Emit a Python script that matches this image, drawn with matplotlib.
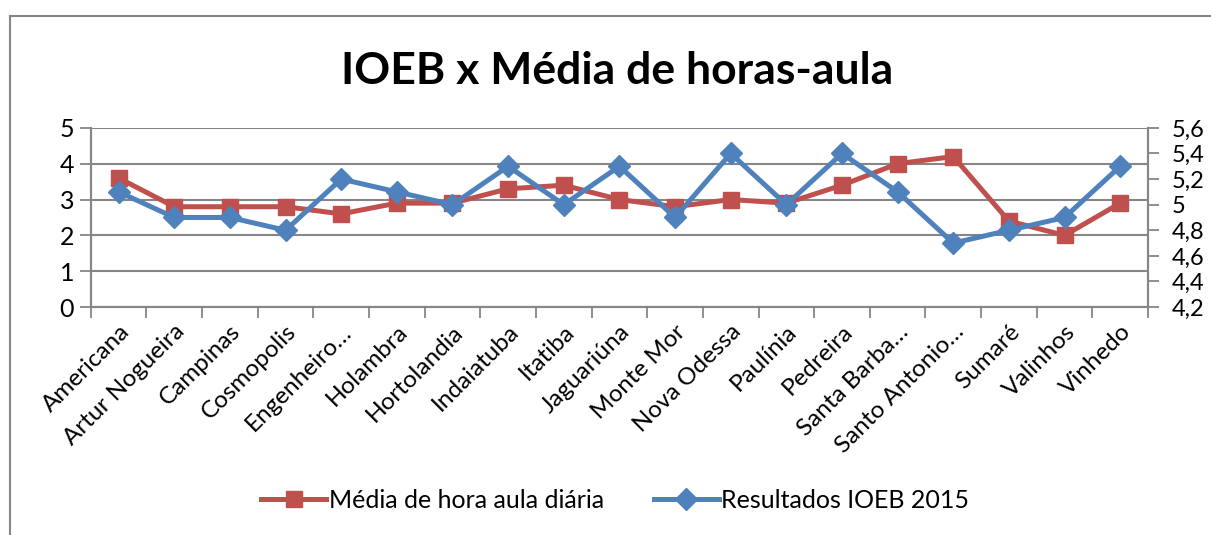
import matplotlib.pyplot as plt
from matplotlib.lines import Line2D
from matplotlib.ticker import FixedLocator, FuncFormatter

# Municipalities (x categories)
CIDADES = ["Americana", "Artur Nogueira", "Campinas", "Cosmopolis", "Engenheiro…",
           "Holambra", "Hortolandia", "Indaiatuba", "Itatiba", "Jaguariúna",
           "Monte Mor", "Nova Odessa", "Paulínia", "Pedreira", "Santa Barba…",
           "Santo Antonio…", "Sumaré", "Valinhos", "Vinhedo"]

# left axis series
HORAS_AULA = [3.6, 2.8, 2.8, 2.8, 2.6, 2.9, 2.9, 3.3, 3.4, 3.0,
              2.8, 3.0, 2.9, 3.4, 4.0, 4.2, 2.4, 2.0, 2.9]

# right axis series
IOEB_2015 = [5.1, 4.9, 4.9, 4.8, 5.2, 5.1, 5.0, 5.3, 5.0, 5.3,
             4.9, 5.4, 5.0, 5.4, 5.1, 4.7, 4.8, 4.9, 5.3]

LEFT_TICKS = [0, 1, 2, 3, 4, 5]
RIGHT_TICKS = [4.2, 4.4, 4.6, 4.8, 5.0, 5.2, 5.4, 5.6]

RED = "#C0504D"
BLUE = "#4F81BD"
GREY = "#868686"

plt.rcParams['font.family'] = ['Lato', 'DejaVu Sans']

fig = plt.figure(figsize=(12.11, 5.35), dpi=100)
ax = fig.add_axes([0.075, 0.426, 0.873, 0.335])
ax2 = ax.twinx()

x = list(range(len(CIDADES)))

ax.plot(x, HORAS_AULA, color=RED, lw=3.6, marker='s', markersize=12,
        label="Média de hora aula diária", zorder=3)
ax2.plot(x, IOEB_2015, color=BLUE, lw=3.6, marker='D', markersize=11,
         label="Resultados IOEB 2015", zorder=3)

ax.set_xlim(-0.5, len(CIDADES) - 0.5)
ax.set_ylim(0, 5)
ax2.set_ylim(4.2, 5.6)

ax.set_yticks(LEFT_TICKS)
ax2.set_yticks(RIGHT_TICKS)


def virgula(v, pos):
    s = f"{v:.1f}".replace(".", ",")
    return s[:-2] if s.endswith(",0") else s


ax2.yaxis.set_major_formatter(FuncFormatter(virgula))

# category labels at centres, ticks at the boundaries
ax.set_xticks(x)
ax.set_xticklabels(CIDADES, rotation=45, ha='right', rotation_mode='anchor')
ax.xaxis.set_minor_locator(FixedLocator([i - 0.5 for i in range(len(CIDADES) + 1)]))
ax.tick_params(axis='x', which='major', length=0, pad=10, labelsize=17.5)
ax.tick_params(axis='x', which='minor', length=8, width=1.3, color=GREY)
ax.tick_params(axis='y', length=8, width=1.3, color=GREY, labelsize=18, pad=4)
ax2.tick_params(axis='y', length=8, width=1.3, color=GREY, labelsize=17, pad=9)

ax.grid(axis='y', color=GREY, lw=1.5)
ax.set_axisbelow(True)

for a in (ax, ax2):
    a.spines['top'].set_visible(False)
    for side in ('left', 'right', 'bottom'):
        a.spines[side].set_color(GREY)
        a.spines[side].set_linewidth(1.5)

fig.text(0.51, 0.868, "IOEB x Média de horas-aula", ha='center', va='center',
         fontsize=32, fontweight='bold')

h1, l1 = ax.get_legend_handles_labels()
h2, l2 = ax2.get_legend_handles_labels()
fig.legend(h1 + h2, l1 + l2, loc='center', bbox_to_anchor=(0.508, 0.065), ncol=2,
           frameon=False, fontsize=18, handlelength=2.6, handletextpad=0.1,
           columnspacing=2.0)

# chart area border (partially cut off in the reference)
fig.add_artist(Line2D([0.0083, 0.0083], [0.0, 0.970], color=GREY, lw=1.5))
fig.add_artist(Line2D([0.0083, 1.0], [0.970, 0.970], color=GREY, lw=1.5))

fig.savefig("out.png", dpi=100)
